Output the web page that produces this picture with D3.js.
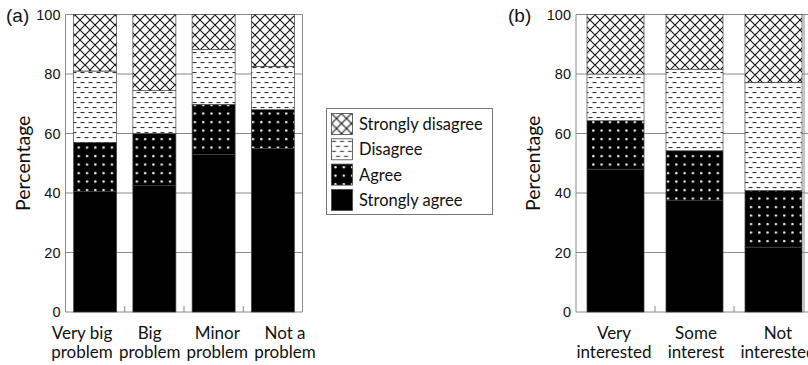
<!DOCTYPE html>
<html><head><meta charset="utf-8">
<script src="https://cdn.jsdelivr.net/npm/d3@7"></script>
<style>body{margin:0;background:#fff}svg{display:block}text{font-family:Lato,"Open Sans",sans-serif;fill:#111}.arial{font-family:"Liberation Sans",Arial,sans-serif}</style>
</head><body>
<svg id="c" width="808" height="365"></svg>
<script>
const seriesKeys = ["Strongly agree", "Agree", "Disagree", "Strongly disagree"];
const legendOrder = ["Strongly disagree", "Disagree", "Agree", "Strongly agree"];
const yTicks = [0, 20, 40, 60, 80, 100];

const catsA = [["Very big","problem"],["Big","problem"],["Minor","problem"],["Not a","problem"]];
const stronglyAgreeA = [40.5, 42.5, 53, 55];
const agreeA = [16.5, 17.5, 16.8, 13];
const disagreeA = [24, 14.4, 18.5, 14.5];
const stronglyDisagreeA = [19, 25.6, 11.7, 17.5];

const catsB = [["Very","interested"],["Some","interest"],["Not","interested"]];
const stronglyAgreeB = [48, 37.6, 21.8];
const agreeB = [16.3, 16.6, 19.1];
const disagreeB = [15.7, 27.4, 36.3];
const stronglyDisagreeB = [20, 18.4, 22.8];

const svg = d3.select("#c");
const defs = svg.append("defs");
// patterns
const pX = defs.append("pattern").attr("id","pSD").attr("patternUnits","userSpaceOnUse").attr("width",10).attr("height",10);
pX.append("rect").attr("width",10).attr("height",10).attr("fill","#fff");
pX.append("path").attr("d","M0,0L10,10M10,0L0,10M-5,5L5,-5M5,15L15,5M-5,5L5,15M5,-5L15,5").attr("stroke","#111").attr("stroke-width",1.1);
const pD = defs.append("pattern").attr("id","pD").attr("patternUnits","userSpaceOnUse").attr("width",8).attr("height",10);
pD.append("rect").attr("width",8).attr("height",10).attr("fill","#fff");
pD.append("rect").attr("x",0.5).attr("y",2).attr("width",4).attr("height",1.1).attr("fill","#333");
pD.append("rect").attr("x",4.5).attr("y",7).attr("width",3.5).attr("height",1.1).attr("fill","#333");
pD.append("rect").attr("x",0).attr("y",7).attr("width",0.5).attr("height",1.1).attr("fill","#333");
const pA = defs.append("pattern").attr("id","pA").attr("patternUnits","userSpaceOnUse").attr("width",8.3).attr("height",8.5);
pA.append("rect").attr("width",8.3).attr("height",8.5).attr("fill","#000");
pA.append("circle").attr("cx",4).attr("cy",3).attr("r",1.2).attr("fill","#fff");
const fills = {"Strongly agree":"#000","Agree":"url(#pA)","Disagree":"url(#pD)","Strongly disagree":"url(#pSD)"};

const y = d3.scaleLinear().domain([0,100]).range([312,14.5]);

function panel(opts){
  const {cats, vals, x0, x1, pad, label, labelX, titleX, frameRight, labelRange} = opts;
  const rows = cats.map((c,i)=>{const o={i}; seriesKeys.forEach((k,j)=>o[k]=vals[j][i]); return o;});
  const stack = d3.stack().keys(seriesKeys)(rows);
  const x = d3.scaleBand().domain(d3.range(cats.length)).range([x0,x1]).paddingInner(pad).paddingOuter(pad/2);
  const xl = d3.scalePoint().domain(d3.range(cats.length)).range(labelRange);
  const g = svg.append("g");
  const right = frameRight ?? x1;
  // gridlines
  g.selectAll("line.grid").data(yTicks).join("line")
    .attr("x1",x0).attr("x2",opts.gridRight ?? right).attr("y1",d=>y(d)).attr("y2",d=>y(d))
    .attr("stroke","#8a8a8a").attr("stroke-width",1);
  // frame
  g.append("line").attr("x1",x0).attr("x2",x0).attr("y1",y(100)).attr("y2",y(0)).attr("stroke","#8a8a8a");
  g.append("line").attr("x1",right).attr("x2",right).attr("y1",y(100)).attr("y2",y(0)).attr("stroke","#8a8a8a");
  // x ticks at band boundaries
  const bounds = d3.range(1, cats.length).map(i=>x0 + i*x.step());
  g.selectAll("line.xt").data(bounds).join("line")
    .attr("x1",d=>d).attr("x2",d=>d).attr("y1",y(0)).attr("y2",y(0)-6).attr("stroke","#8a8a8a");
  // bars
  stack.forEach(s=>{
    g.selectAll(null).data(s).join("rect")
      .attr("x",d=>x(d.data.i)).attr("width",x.bandwidth())
      .attr("y",d=>y(d[1])).attr("height",d=>y(d[0])-y(d[1]))
      .attr("fill",fills[s.key]).attr("stroke","#444").attr("stroke-width",0.7);
  });
  // y tick labels
  g.selectAll("text.yt").data(yTicks).join("text").attr("class","arial")
    .attr("x",x0-5).attr("y",d=>y(d)).attr("dy","0.36em").attr("text-anchor","end")
    .style("font-size","14.5px").text(d=>d);
  // x labels (one text per line)
  cats.forEach((d,i)=>{
    d.forEach((line,k)=>g.append("text").attr("x",xl(i)).attr("y",339+k*19)
      .attr("text-anchor","middle").style("font-size","17px").text(line));
  });
  // y title
  g.append("text").attr("transform",`translate(${titleX},${(y(0)+y(100))/2}) rotate(-90)`)
    .attr("text-anchor","middle").attr("dy","0.35em").style("font-size","19.5px").text("Percentage");
  g.append("text").attr("class","arial").attr("x",labelX).attr("y",y(100)).attr("dy","0.38em").style("font-size","19px").text(label);
}

panel({cats:catsA, vals:[stronglyAgreeA,agreeA,disagreeA,stronglyDisagreeA], x0:65.5, x1:302.5, pad:0.274, label:"(a)", labelX:6, titleX:23, labelRange:[82,285]});
panel({cats:catsB, vals:[stronglyAgreeB,agreeB,disagreeB,stronglyDisagreeB], x0:576, x1:813, pad:0.278, label:"(b)", labelX:508, titleX:533, frameRight:804, gridRight:808, labelRange:[614,778]});

// legend
const lg = svg.append("g");
lg.append("rect").attr("x",326.5).attr("y",108.5).attr("width",166).attr("height",106).attr("fill","#fff").attr("stroke","#777");
const li = lg.selectAll("g").data(legendOrder).join("g").attr("transform",(d,i)=>`translate(331.5,${113.5+i*25.3})`);
li.append("rect").attr("width",21).attr("height",21).attr("fill",d=>fills[d]).attr("stroke","#444").attr("stroke-width",0.8);
li.append("text").attr("x",27.5).attr("y",10.5).attr("dy","0.36em").style("font-size","16.5px").text(d=>d);
</script>
</body></html>
